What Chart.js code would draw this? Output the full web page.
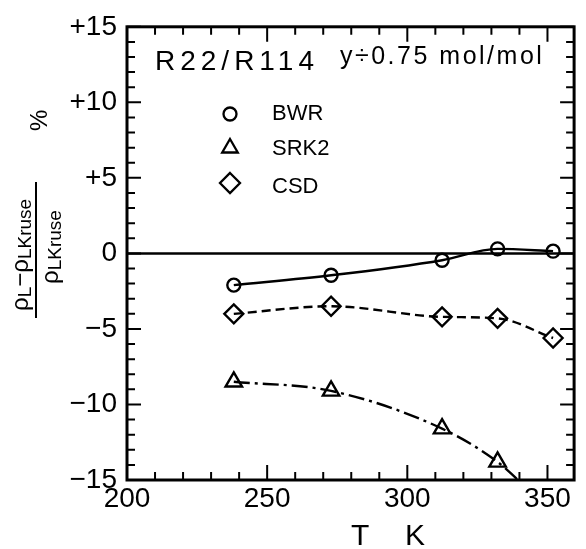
<!DOCTYPE html>
<html><head><meta charset="utf-8">
<script src="https://cdn.jsdelivr.net/npm/chart.js@4/dist/chart.umd.min.js"></script>
<style>html,body{margin:0;padding:0;background:#fff}#wrap{width:586px;height:549px;position:relative}</style>
</head><body><div id="wrap"><canvas id="c" width="586" height="549"></canvas></div>
<script>
// ---- data ----
const temperatures = [238.1, 272.8, 312.4, 332.2, 352.0];
const bwrValues = [-2.1, -1.45, -0.45, 0.3, 0.15];
const csdValues = [-4.0, -3.5, -4.2, -4.3, -5.6];
const srk2Temperatures = [238.1, 272.8, 312.4, 332.2, 339.5];
const srk2Values = [-8.5, -9.1, -11.6, -13.8, -15.0];
const srk2Markers = [true, true, true, true, false];
const seriesNames = ['BWR', 'SRK2', 'CSD'];
const xTickLabels = [200, 250, 300, 350];
const yTickLabels = [-15, -10, -5, 0, 5, 10, 15];
const chartTitle = 'R22/R114';
const chartSubtitle = 'y\u00f70.75 mol/mol';

const FONT = "'Liberation Sans', Arial, Helvetica, sans-serif";

function pts(xs, ys) { return xs.map((x, i) => ({x: x, y: ys[i]})); }
function near(v, k) { return Math.abs(v - k) < 1e-6; }

function drawMarker(ctx, style, x, y, r) {
  ctx.beginPath();
  if (style === 'circle') {
    ctx.arc(x, y, r, 0, Math.PI * 2);
  } else if (style === 'triangle') {
    const w = r * Math.sqrt(3);
    ctx.moveTo(x, y - r);
    ctx.lineTo(x + w / 2, y + r / 2);
    ctx.lineTo(x - w / 2, y + r / 2);
    ctx.closePath();
  } else {
    ctx.moveTo(x, y - r); ctx.lineTo(x + r, y); ctx.lineTo(x, y + r); ctx.lineTo(x - r, y); ctx.closePath();
  }
  ctx.stroke();
}

const decor = {
  id: 'decor',
  beforeDatasetsDraw(chart) {
    const {ctx, chartArea: a, scales: {y}} = chart;
    ctx.save();
    ctx.strokeStyle = '#000'; ctx.lineWidth = 2.5;
    const y0 = y.getPixelForValue(0);
    ctx.beginPath(); ctx.moveTo(a.left, y0); ctx.lineTo(a.right, y0); ctx.stroke();
    ctx.restore();
  },
  afterDraw(chart) {
    const {ctx, chartArea: a, scales: {x, y}} = chart;
    ctx.save();
    ctx.strokeStyle = '#000'; ctx.fillStyle = '#000';
    // ticks (inward on all sides)
    ctx.lineWidth = 2;
    y.ticks.forEach(t => {
      const v = t.value; const r = Math.round(v); if (!near(v, r)) return;
      const p = y.getPixelForValue(v);
      const len = (r % 5 === 0) ? 14 : 8;
      ctx.beginPath(); ctx.moveTo(a.left, p); ctx.lineTo(a.left + len, p);
      ctx.moveTo(a.right, p); ctx.lineTo(a.right - len, p); ctx.stroke();
    });
    x.ticks.forEach(t => {
      const v = t.value; const r = Math.round(v); if (!near(v, r) || r % 10 !== 0) return;
      const p = x.getPixelForValue(v);
      const len = (r % 50 === 0) ? 15 : 8;
      ctx.beginPath(); ctx.moveTo(p, a.bottom); ctx.lineTo(p, a.bottom - len);
      ctx.moveTo(p, a.top); ctx.lineTo(p, a.top + len); ctx.stroke();
    });
    // frame
    ctx.lineWidth = 3;
    ctx.strokeRect(a.left, a.top, a.right - a.left, a.bottom - a.top);

    // title texts
    ctx.textAlign = 'left'; ctx.textBaseline = 'alphabetic';
    ctx.font = '28px ' + FONT;
    ctx.letterSpacing = '5px';
    ctx.fillText(chartTitle, 155, 70);
    ctx.font = '25px ' + FONT;
    ctx.letterSpacing = '2.5px';
    ctx.fillText(chartSubtitle, 340, 64);
    ctx.letterSpacing = '0px';

    // legend
    const styles = ['circle', 'triangle', 'diamond'];
    const radii = [6.5, 9, 10];
    const my = [114, 148, 183];
    const ty = [120, 155, 193];
    ctx.lineWidth = 2.3;
    ctx.font = '22px ' + FONT;
    seriesNames.forEach((n, i) => {
      drawMarker(ctx, styles[i], 230, my[i], radii[i]);
      ctx.fillText(n, 272, ty[i]);
    });

    // x axis title
    ctx.font = '30px ' + FONT;
    ctx.fillText('T', 351, 545);
    ctx.fillText('K', 405, 545);

    // y axis title (rotated fraction)
    ctx.save();
    ctx.rotate(-Math.PI / 2);
    const big = '24px ' + FONT, small = '19px ' + FONT;
    function drawRun(parts, startPageY, baseX) {
      let X = -startPageY;
      parts.forEach(([txt, f, dy]) => {
        ctx.font = f;
        ctx.fillText(txt, X, baseX + dy);
        X += ctx.measureText(txt).width;
      });
    }
    drawRun([['\u03c1', big, 0], ['L', small, 3], ['\u2212', big, 0], ['\u03c1', big, 0], ['LKruse', small, 3]], 311, 28);
    drawRun([['\u03c1', big, 0], ['LKruse', small, 3]], 284, 58);
    ctx.fillRect(-318, 35, 136, 2);
    ctx.font = '24px ' + FONT;
    ctx.fillText('%', -131, 47);
    ctx.restore();

    ctx.restore();
  }
};

const common = {
  borderColor: '#000', borderWidth: 2.4,
  pointBorderColor: '#000', pointBackgroundColor: 'rgba(0,0,0,0)', pointBorderWidth: 2.4,
  pointHoverRadius: 0, fill: false, cubicInterpolationMode: 'monotone'
};

new Chart(document.getElementById('c'), {
  type: 'line',
  data: {
    datasets: [
      Object.assign({}, common, {label: seriesNames[0], data: pts(temperatures, bwrValues), pointStyle: 'circle', pointRadius: 6.5}),
      Object.assign({}, common, {label: seriesNames[1], data: pts(srk2Temperatures, srk2Values), pointStyle: 'triangle',
        pointRadius: srk2Markers.map(m => m ? 9.5 : 0), borderDash: [16, 5, 3, 5]}),
      Object.assign({}, common, {label: seriesNames[2], data: pts(temperatures, csdValues), pointStyle: 'rectRot', pointRadius: 9.5, borderDash: [9, 5]})
    ]
  },
  options: {
    responsive: false, animation: false, devicePixelRatio: 1,
    layout: {padding: {left: 0, top: 20, right: 3, bottom: 0}},
    plugins: {legend: {display: false}, tooltip: {enabled: false}},
    events: [],
    scales: {
      x: {
        type: 'linear', min: 200, max: 359.5,
        afterFit(s) { s.height = 69; },
        grid: {display: false, drawTicks: false}, border: {display: false},
        ticks: {stepSize: 10, includeBounds: false, autoSkip: false, maxRotation: 0, padding: 2, color: '#000',
          font: {family: FONT, size: 28},
          callback: v => { const r = Math.round(v); return (near(v, r) && xTickLabels.includes(r)) ? String(r) : ''; }}
      },
      y: {
        type: 'linear', min: -15, max: 15,
        afterFit(s) { s.width = 127; },
        grid: {display: false, drawTicks: false}, border: {display: false},
        ticks: {stepSize: 1, autoSkip: false, padding: 10, color: '#000',
          font: {family: FONT, size: 28},
          callback: v => { const r = Math.round(v); if (!near(v, r) || !yTickLabels.includes(r)) return '';
            return r > 0 ? '+' + r : (r < 0 ? '\u2212' + (-r) : '0'); }}
      }
    }
  },
  plugins: [decor]
});
</script></body></html>
